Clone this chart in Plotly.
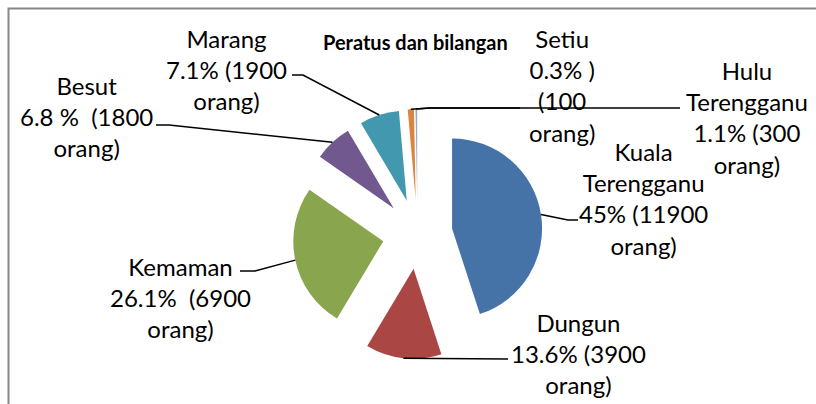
import math
import plotly.graph_objects as go

W, H = 816, 404

# ---- data ----
districts = ["Kuala Terengganu", "Dungun", "Kemaman", "Besut", "Marang", "Hulu Terengganu", "Setiu"]
percents = [45.0, 13.6, 26.1, 6.8, 7.1, 1.1, 0.3]
people = [11900, 3900, 6900, 1800, 1900, 300, 100]
colors = ["#4572A7", "#AA4643", "#89A54E", "#71588F", "#4198AF", "#DB843D", "#93A9CF"]
NB = "\u00a0"
label_texts = [
    "Kuala<br>Terengganu<br>45% (11900<br>orang)",
    "Dungun<br>13.6% (3900<br>orang)",
    "Kemaman<br>26.1%" + NB + NB + "(6900<br>orang)",
    "Besut<br>6.8" + NB + "%" + NB + NB + "(1800<br>orang)",
    "Marang<br>7.1% (1900<br>orang)",
    "Hulu<br>Terengganu<br>1.1% (300<br>orang)",
    "Setiu<br>0.3% )<br>(100<br>orang)",
]
title_text = "Peratus dan bilangan"

# ---- layout geometry (pixels) ----
CX, CY = 417.5, 234    # pie centre
R = 90                 # slice radius
PULL_PX = 35           # explosion distance
pull = PULL_PX / R
box = 2 * R * (1 + pull)

def px(x):
    return x / W

def py(y):
    return 1 - y / H

dom_x = [px(CX - box / 2 - 40), px(CX + box / 2 + 40)]
dom_y = [py(CY + box / 2), py(CY - box / 2)]

fig = go.Figure(go.Pie(
    labels=districts,
    values=percents,
    customdata=people,
    sort=False,
    direction="clockwise",
    rotation=0,
    pull=[pull] * len(percents),
    marker=dict(colors=colors, line=dict(width=0)),
    textinfo="none",
    hoverinfo="label+percent",
    showlegend=False,
    domain=dict(x=dom_x, y=dom_y),
))

# slice anchor points computed from the data
total = sum(percents)
anchors = []
cum = 0.0
for v in percents:
    mid = (cum + v / 2) / total * 2 * math.pi
    cum += v
    rr = R + PULL_PX
    anchors.append((CX + rr * math.sin(mid), CY - rr * math.cos(mid)))

# label block centres and leader elbows (pixels)
label_pos = [(643, 198), (578, 353), (180, 297), (86, 116), (226, 69), (747, 117), (562, 86)]
leader_start = [
    [(578, 220), (568, 220)],
    [(508, 359)],
    [(240, 271), (255, 271)],
    [(156, 125), (169, 125)],
    [(292, 75), (303, 75)],
    [(680, 108), (430, 108)],
    [(520, 108), (430, 108)],
]

font_family = "Lato, Carlito, Calibri, sans-serif"
annotations = []
for txt, (lx, ly) in zip(label_texts, label_pos):
    annotations.append(dict(
        x=px(lx), y=py(ly), xref="paper", yref="paper",
        text=txt, showarrow=False, align="center",
        xanchor="center", yanchor="middle",
        font=dict(family=font_family, size=24, color="#000000"),
    ))
annotations.append(dict(
    x=px(415), y=py(42), xref="paper", yref="paper",
    text="<b>" + title_text + "</b>", showarrow=False,
    xanchor="center", yanchor="middle",
    font=dict(family=font_family, size=20, color="#000000"),
))

shapes = []
for pts, anc in zip(leader_start, anchors):
    allp = pts + [anc]
    path = "M " + " L ".join(f"{px(x):.5f},{py(y):.5f}" for x, y in allp)
    shapes.append(dict(type="path", xref="paper", yref="paper", path=path,
                       line=dict(color="#000000", width=1.5)))
# chart border
shapes.append(dict(type="rect", xref="paper", yref="paper",
                   x0=px(8.5), y0=py(430), x1=px(840), y1=py(8.5),
                   line=dict(color="#878787", width=2), fillcolor="rgba(0,0,0,0)"))

fig.update_layout(
    width=W, height=H,
    margin=dict(l=0, r=0, t=0, b=0),
    paper_bgcolor="#ffffff",
    plot_bgcolor="#ffffff",
    annotations=annotations,
    shapes=shapes,
)

fig.write_html("out.html", config={"displayModeBar": False})
